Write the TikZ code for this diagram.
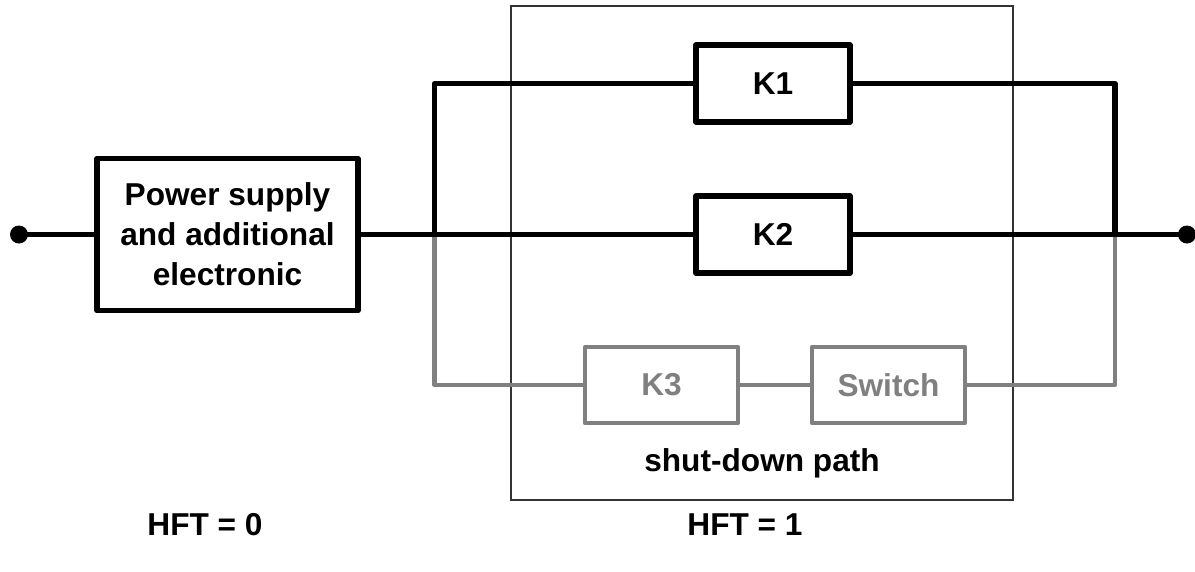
\documentclass[tikz,border=0pt]{standalone}
\usepackage{fontspec}
\setmainfont{Liberation Sans}
\definecolor{shutgray}{RGB}{128,128,128}
\begin{document}
\begin{tikzpicture}[every node/.style={font=\fontsize{18}{22.7}\selectfont\bfseries},
    block/.style={rectangle, draw, line width=3.2pt, line join=round, minimum width=3.08cm, minimum height=1.54cm, align=center},
    greyblock/.style={block, draw=shutgray, text=shutgray, line width=2.5pt},
    wire/.style={line width=2.9pt, line join=round},
    greywire/.style={line width=2.4pt, shutgray, line join=round}]
        \useasboundingbox (0,0) rectangle (23.9,-11.42);
        % shut-down path frame
        \draw[line width=0.6pt, black!80] (10.22,-0.12) rectangle (20.26,-10.0);
        \node (sd) at (15.24,-9.26) {shut-down path};
        % blocks
        \node[block, minimum width=5.22cm, minimum height=3.04cm] (ps) at (4.55,-4.69) {Power supply\\and additional\\electronic};
        \node[block] (k1) at (15.46,-1.67) {K1};
        \node[block] (k2) at (15.46,-4.69) {K2};
        \node[greyblock, minimum width=3.06cm, minimum height=1.52cm] (k3) at (13.23,-7.7) {K3};
        \node[greyblock, minimum width=3.06cm, minimum height=1.52cm] (sw) at (17.77,-7.7) {Switch};
        \coordinate (in) at (0.38,-4.69);
        \coordinate (out) at (23.74,-4.69);
        \coordinate (jl) at (8.69,-4.69);
        \coordinate (jr) at (22.3,-4.69);
        % grey branch
        \draw[greywire] (jl) |- (k3);
        \draw[greywire] (k3) -- (sw);
        \draw[greywire] (sw) -| (jr);
        % black branches
        \draw[wire] (in) -- (ps);
        \draw[wire] (ps) -- (jl) -- (k2);
        \draw[wire] (k2) -- (jr) -- (out);
        \draw[wire] (jl) |- (k1);
        \draw[wire] (k1) -| (jr);
        \fill (in) circle (0.18);
        \fill (out) circle (0.18);
        % fault tolerance
        \node (hft0) at (4.1,-10.5) {HFT = 0};
        \node (hft1) at (14.9,-10.5) {HFT = 1};
    \end{tikzpicture}
\end{document}
